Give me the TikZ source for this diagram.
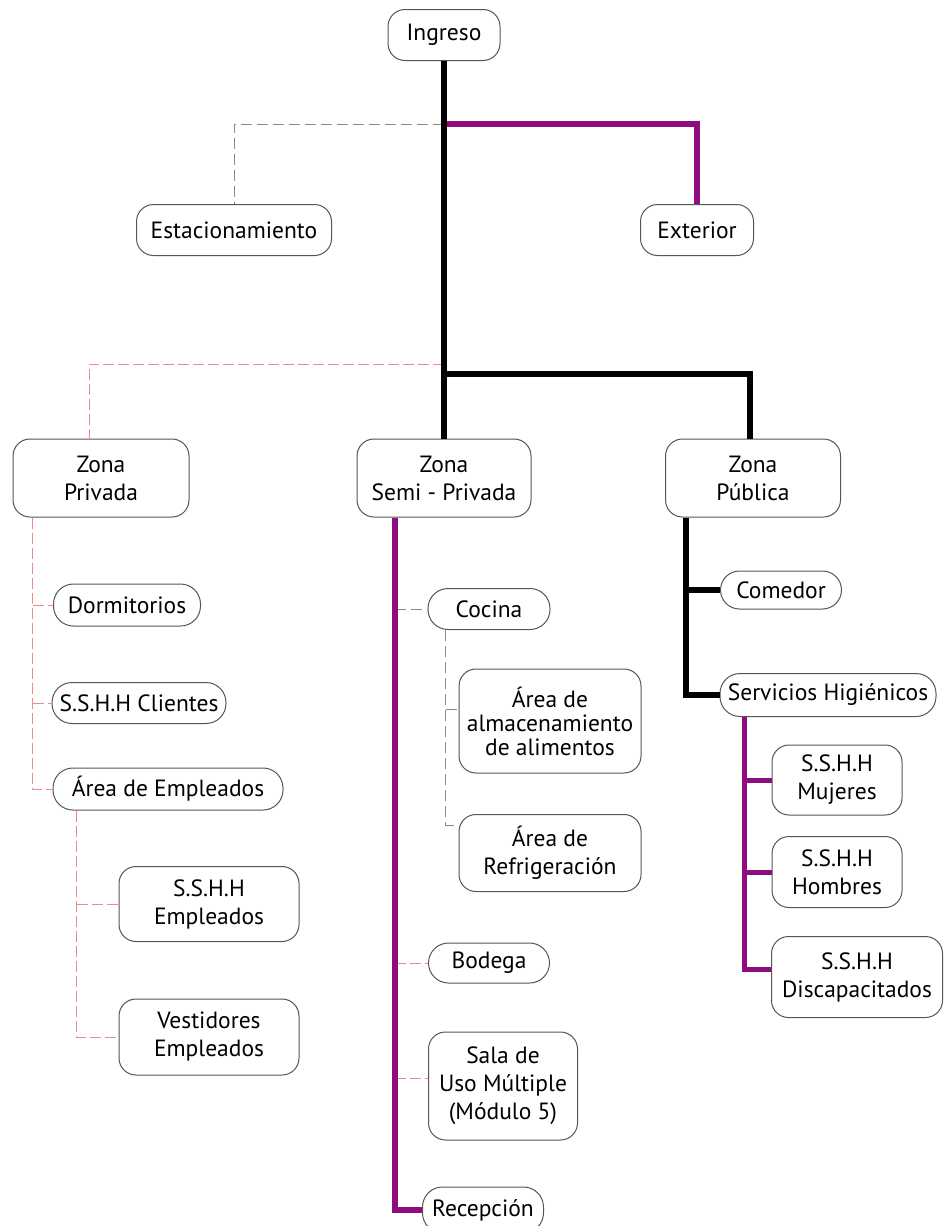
\documentclass[tikz,border=0pt]{standalone}
\usepackage{fontspec}
\setmainfont{PT Sans}
\definecolor{lnpurple}{HTML}{8E0C80}
\definecolor{lnpink}{HTML}{F08A8A}
\definecolor{lngray}{HTML}{8A8A8A}
\definecolor{bxline}{HTML}{555555}
\tikzset{
  box/.style={draw=bxline, line width=1pt, fill=white, inner sep=0pt,
    rounded corners=17pt, align=center, font=\fontsize{23.5}{28}\selectfont},
  sz/.style 2 args={minimum width=#1pt, minimum height=#2pt},
  thickblack/.style={draw=black, line width=6pt, line join=miter},
  thickpurple/.style={draw=lnpurple, line width=6pt, line join=miter},
  midpurple/.style={draw=lnpurple, line width=5pt, line join=miter},
  graydash/.style={draw=lngray, line width=1pt, dash pattern=on 11pt off 5pt},
  pinkdash/.style={draw=lnpink, line width=1pt, dash pattern=on 11pt off 4pt},
}
\begin{document}
\begin{tikzpicture}[x=1pt,y=-1pt]
\clip (0,0) rectangle (944,1226);
\fill[white] (0,0) rectangle (944,1226);

% nodes
\node[box, sz={112}{51}] (ing) at (444,35) {Ingreso};
\node[box, sz={195}{51}] (est) at (234,230) {Estacionamiento};
\node[box, sz={113}{51}] (ext) at (697,230) {Exterior};
\node[box, sz={176}{78}] (priv) at (101,478) {Zona\\Privada};
\node[box, sz={174}{78}] (semi) at (444,478) {Zona\\Semi - Privada};
\node[box, sz={175}{78}] (pub) at (753,478) {Zona\\Pública};

\node[box, sz={147}{42}, rounded corners=20pt] (dorm) at (127,605) {Dormitorios};
\node[box, sz={174}{41}, rounded corners=20pt] (ssc) at (139,703) {S.S.H.H Clientes};
\node[box, sz={230}{42}, rounded corners=20pt] (aemp) at (168,789) {Área de Empleados};
\node[box, sz={180}{75}] (semp) at (209,904) {S.S.H.H\\Empleados};
\node[box, sz={180}{76}] (vest) at (209,1037) {Vestidores\\Empleados};

\node[box, sz={122}{41}, rounded corners=20pt] (coc) at (489,609) {Cocina};
\node[box, sz={182}{104}, font=\fontsize{23.5}{24}\selectfont] (alm) at (550,721) {Área de\\almacenamiento\\de alimentos};
\node[box, sz={182}{77}] (refr) at (550,853) {Área de\\Refrigeración};
\node[box, sz={121}{40}, rounded corners=20pt] (bod) at (489,963) {Bodega};
\node[box, sz={149}{108}] (sala) at (503,1086) {Sala de\\Uso Múltiple\\(Módulo 5)};
\node[box, sz={121}{46}, rounded corners=20pt] (rec) at (483,1210) {Recepción};

\node[box, sz={121}{38}, rounded corners=19pt] (com) at (781,590) {Comedor};
\node[box, sz={216}{43}, rounded corners=20pt] (sh) at (828,695) {Servicios Higiénicos};
\node[box, sz={130}{70}] (muj) at (837,780) {S.S.H.H\\Mujeres};
\node[box, sz={130}{71}] (hom) at (837,872) {S.S.H.H\\Hombres};
\node[box, sz={171}{81}] (dis) at (857,977) {S.S.H.H\\Discapacitados};

% junction coordinates
\coordinate (j1) at (444,124);
\coordinate (j3) at (444,364);
\coordinate (j2) at (444,374);
\coordinate (p0) at ([xshift=20pt]priv.south west);
\coordinate (a0) at ([xshift=24pt]aemp.south west);
\coordinate (s0) at ([xshift=38pt]semi.south west);
\coordinate (c0) at ([xshift=18pt]coc.south west);
\coordinate (u0) at ([xshift=21pt]pub.south west);
\coordinate (h0) at ([xshift=25pt]sh.south west);
\coordinate (privn) at ([xshift=-12pt]priv.north);
\coordinate (pubn) at ([xshift=-3pt]pub.north);
\coordinate (almw) at ([yshift=12pt]alm.west);
\coordinate (refrw) at ([yshift=28pt]refr.west);
\coordinate (salaw) at ([yshift=8pt]sala.west);
\coordinate (disw) at ([yshift=8pt]dis.west);

% top level
\draw[graydash] (j1) -| (est.north);
\draw[pinkdash] (j3) -| (privn);
\draw[thickpurple] (j1) -| (ext.north);
\draw[thickblack] (j2) -| (pubn);
\draw[thickblack] (ing.south) -- (semi.north);

% zona privada
\draw[pinkdash] (p0) |- (aemp.west);
\draw[pinkdash] (p0 |- dorm.west) -- (dorm.west);
\draw[pinkdash] (p0 |- ssc.west) -- (ssc.west);
\draw[pinkdash] (a0) |- (vest.west);
\draw[pinkdash] (a0 |- semp.west) -- (semp.west);

% zona semi-privada
\draw[graydash] (s0 |- coc.west) -- (coc.west);
\draw[graydash] (c0) |- (refrw);
\draw[graydash] (c0 |- almw) -- (almw);
\draw[pinkdash] (s0 |- bod.west) -- (bod.west);
\draw[pinkdash] (s0 |- salaw) -- (salaw);
\draw[thickpurple] (s0) |- (rec.west);

% zona publica
\draw[thickblack] (u0) |- (sh.west);
\draw[thickblack] (u0 |- com.west) -- (com.west);
\draw[midpurple] (h0) |- (disw);
\draw[midpurple] (h0 |- muj.west) -- (muj.west);
\draw[midpurple] (h0 |- hom.west) -- (hom.west);
\end{tikzpicture}
\end{document}
